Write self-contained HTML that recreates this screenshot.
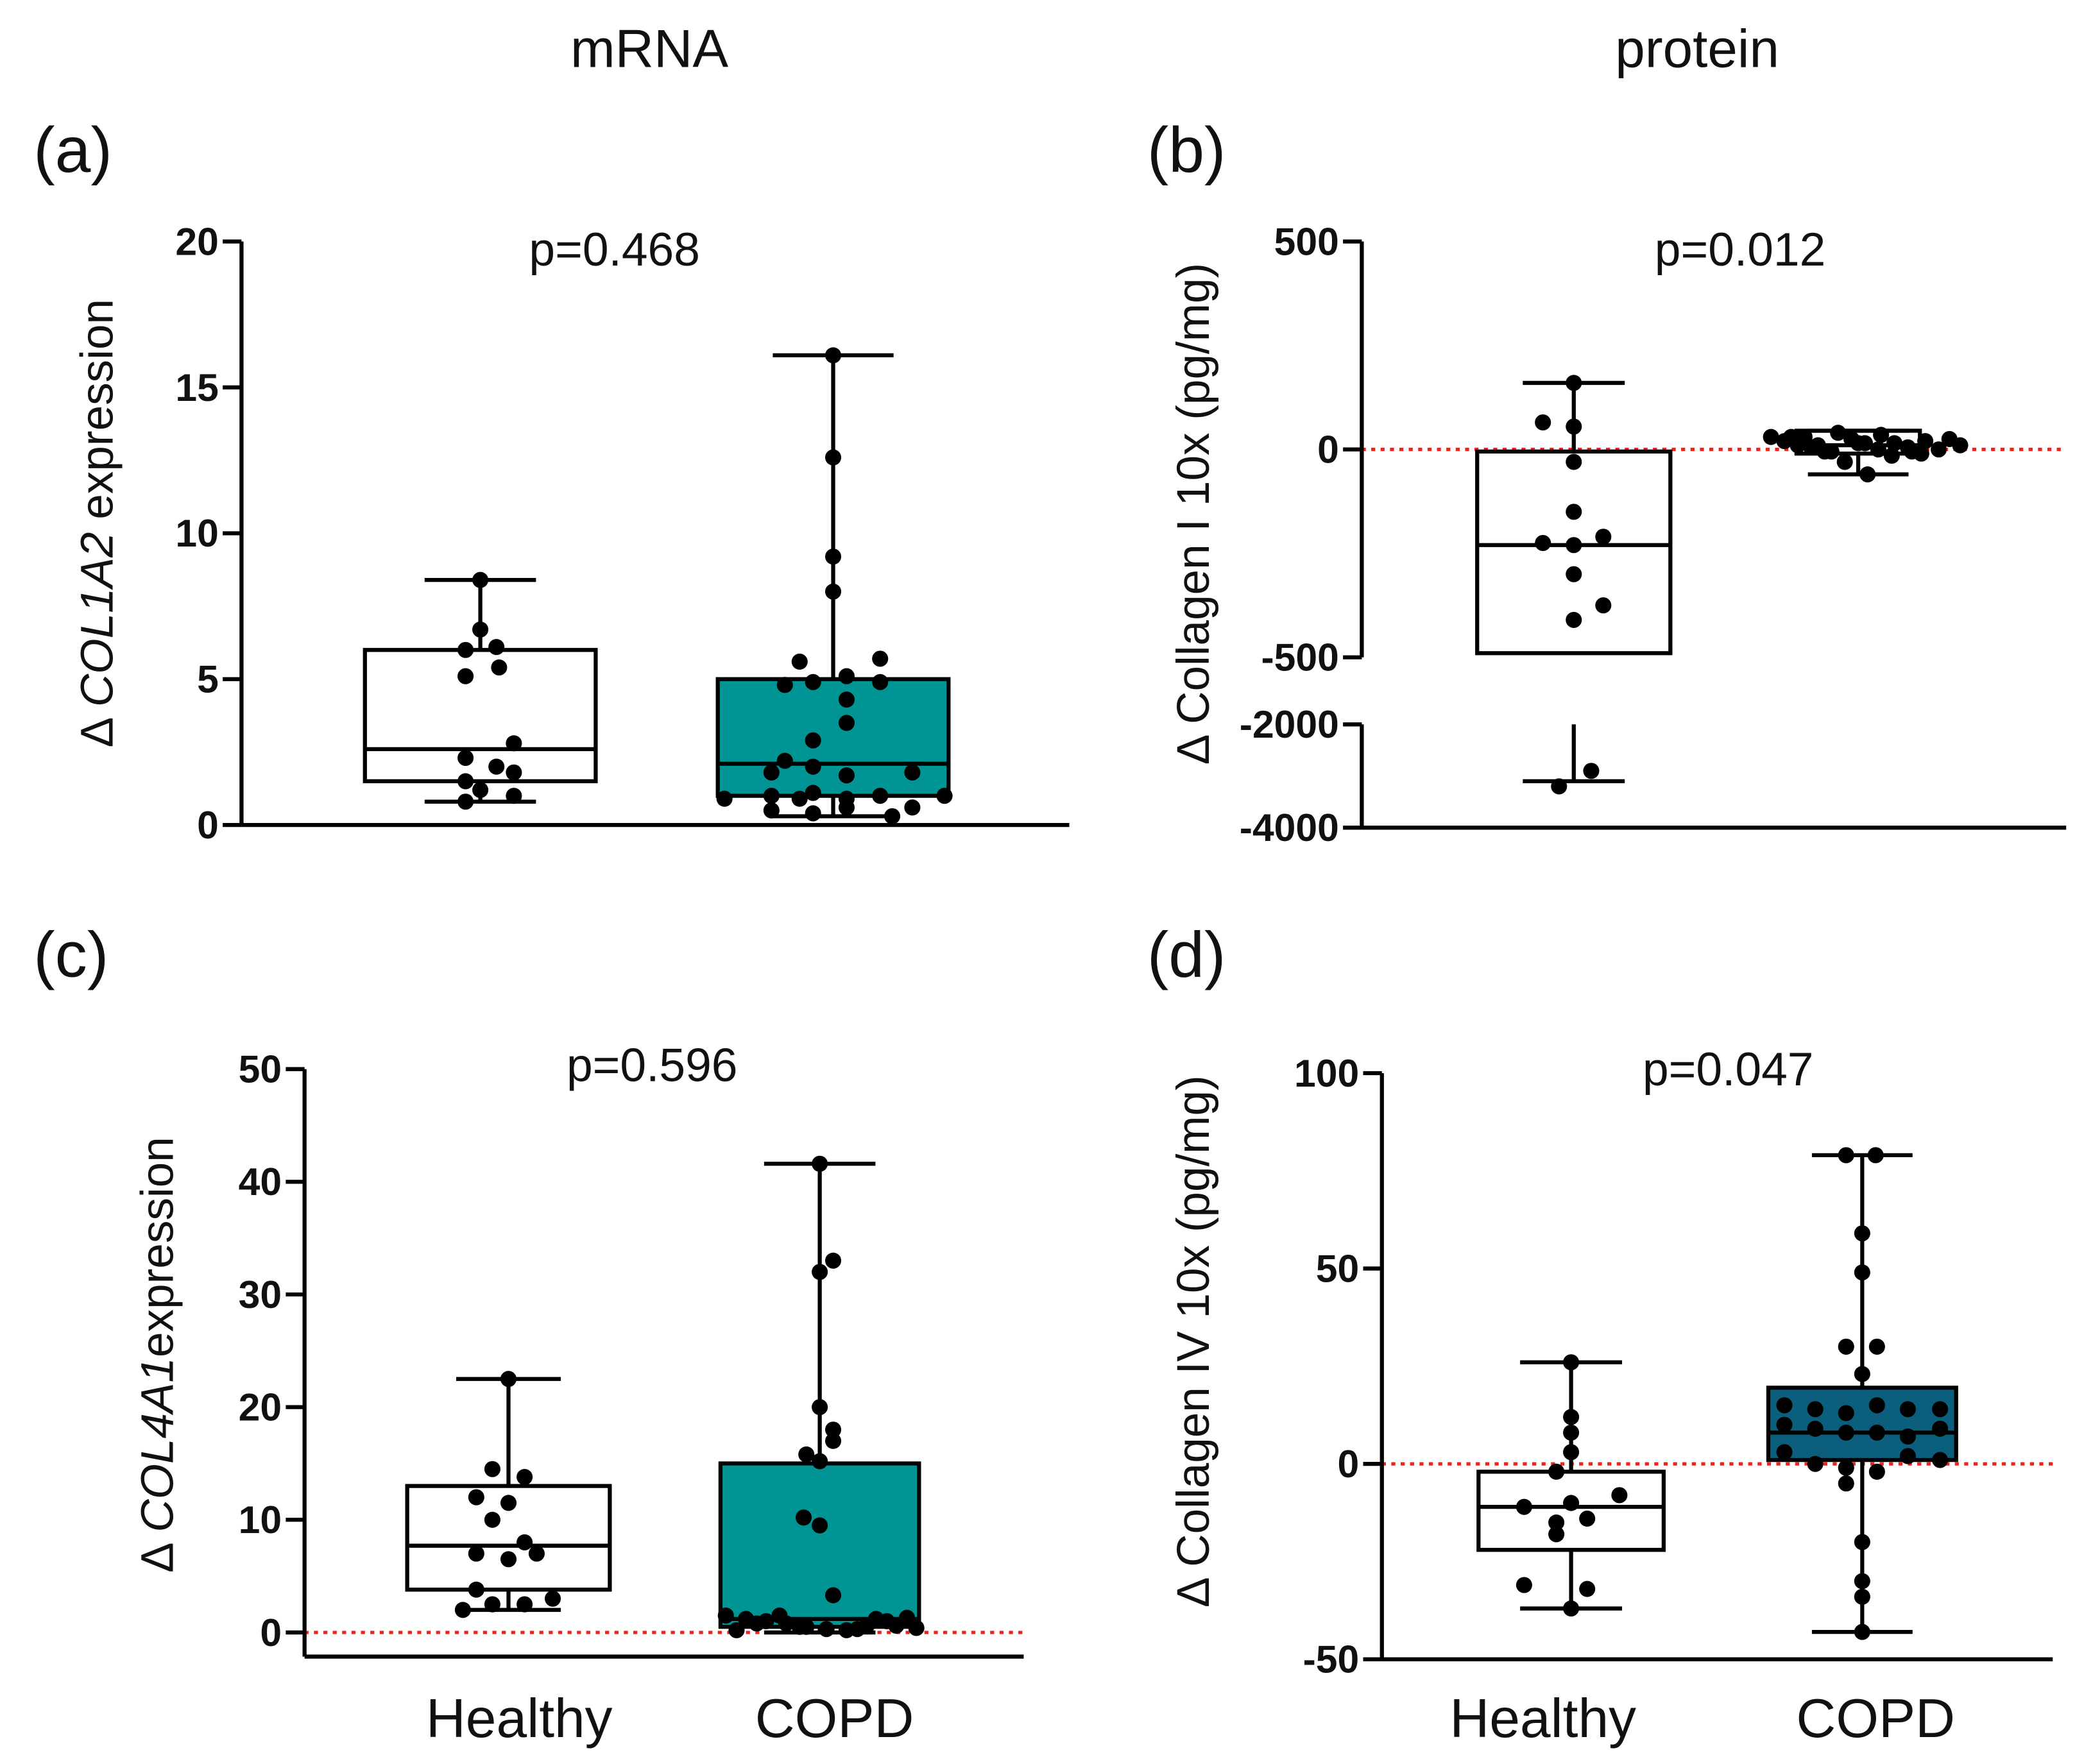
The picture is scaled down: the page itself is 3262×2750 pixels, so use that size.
<!DOCTYPE html>
<html><head><meta charset="utf-8"><style>
html,body{margin:0;padding:0;background:#fff}
svg{display:block}
text{font-family:"Liberation Sans",Arial,sans-serif;fill:#111}
</style></head><body>
<svg id="fig" width="3262" height="2750" viewBox="0 0 1560 1315" xmlns="http://www.w3.org/2000/svg">
<text x="484" y="50" font-size="40" text-anchor="middle">mRNA</text>
<text x="1265" y="50" font-size="40" text-anchor="middle">protein</text>
<text x="25" y="128" font-size="48">(a)</text>
<text x="855" y="128" font-size="48">(b)</text>
<text x="25" y="728" font-size="48">(c)</text>
<text x="855" y="728" font-size="48">(d)</text>
<text x="458" y="198" font-size="35" text-anchor="middle">p=0.468</text>
<text x="1297" y="198" font-size="35" text-anchor="middle">p=0.012</text>
<text x="486" y="806" font-size="35" text-anchor="middle">p=0.596</text>
<text x="1288" y="809" font-size="35" text-anchor="middle">p=0.047</text>
<text transform="translate(84,390) rotate(-90)" font-size="34" text-anchor="middle">Δ <tspan font-style="italic">COL1A2</tspan> expression</text>
<text transform="translate(901,383) rotate(-90)" font-size="34" text-anchor="middle">Δ Collagen I 10x (pg/mg)</text>
<text transform="translate(129,1010) rotate(-90)" font-size="34" text-anchor="middle">Δ <tspan font-style="italic">COL4A1</tspan>expression</text>
<text transform="translate(901,1000) rotate(-90)" font-size="34" text-anchor="middle">Δ Collagen IV 10x (pg/mg)</text>
<text x="387" y="1295" font-size="41" text-anchor="middle">Healthy</text>
<text x="622" y="1295" font-size="41" text-anchor="middle">COPD</text>
<text x="1150" y="1295" font-size="41" text-anchor="middle">Healthy</text>
<text x="1398" y="1295" font-size="41" text-anchor="middle">COPD</text>
</svg>
<script>
// Panel a data
const aTicks=[0,5,10,15,20];
const aHealthyStats=[0.8,1.5,2.6,6.0,8.4];
const aCopdStats=[0.3,1.0,2.1,5.0,16.1];
const aHealthyVals=[8.4,6.7,6.0,6.1,5.1,5.4,2.8,2.3,2.0,1.5,1.8,1.2,0.8,1.0];
const aHealthyJit=[0,0,-11,12,-11,14,25,-11,12,-11,25,0,-11,25];
const aCopdVals=[16.1,12.6,9.2,8.0,5.6,5.7,4.8,4.9,5.1,4.9,4.3,3.5,2.9,2.2,2.0,1.7,1.8,1.8,1.0,0.9,1.1,0.9,1.0,1.0,0.9,0.5,0.4,0.6,0.6,0.3];
const aCopdJit=[0,0,0,0,-25,35,-36,-15,10,35,10,10,-15,-36,-15,10,-46,59,-46,-25,-15,10,35,83,-81,-46,-15,10,59,44];
// Panel b data
const bTicksTop=[500,0,-500];
const bTicksBot=[-2000,-4000];
const bHealthyStats=[-3100,-490,-230,-5,160];
const bCopdStats=[-60,-10,10,45,45];
const bHealthyVals=[160,65,55,-30,-150,-225,-210,-230,-300,-375,-410,-3200,-2900];
const bHealthyJit=[0,-23,0,0,0,-23,22,0,0,22,0,-11,13];
const bCopdVals=[30,20,10,5,-5,40,25,15,0,-15,-60,35,15,5,-10,30,10,-5,20,0,-30,25,10,-5,15,30];
const bCopdJit=[-65,-55,-45,-35,-25,-15,-5,5,15,25,7,17,27,37,47,-40,-30,-20,50,60,-10,68,76,40,0,-50];
// Panel c data
const cTicks=[0,10,20,30,40,50];
const cHealthyStats=[2,3.8,7.7,13.0,22.5];
const cCopdStats=[0,0.5,1.2,15.0,41.6];
const cHealthyVals=[22.5,14.5,13.8,12,11.5,10,8,7,6.5,7,3.8,2.5,2.5,2,3];
const cHealthyJit=[0,-12,12,-24,0,-12,12,-24,0,21,-24,-12,12,-34,33];
const cCopdVals=[41.6,33,32,20,18,15.8,15.2,17,10.2,9.5,3.3,1.5,1.2,1.0,0.8,0.5,0.3,0.2,0.6,1.0,1.3,0.4,0.2,0.8,1.5,0.5,0.3,1.2,0.6];
const cCopdJit=[0,10,0,0,10,-10,0,10,-12,0,10,-70,-55,-40,-25,-10,5,20,35,50,65,72,-62,-47,-30,-15,28,42,57];
// Panel d data
const dTicks=[-50,0,50,100];
const dHealthyStats=[-37,-22,-11,-2,26];
const dCopdStats=[-43,1,8,19.5,79];
const dHealthyVals=[26,12,8,3,-2,-10,-11,-15,-14,-8,-18,-31,-32,-37];
const dHealthyJit=[0,0,0,0,-11,0,-35,-11,12,36,-11,-35,12,0];
const dCopdVals=[79,79,59,49,30,30,23,15,14,13,15,14,14,10,9,8,8,7,9,3,0,-1,-2,2,1,-5,-20,-30,-34,-43];
const dCopdJit=[-12,10,0,0,-12,11,0,-58,-35,-12,11,34,58,-58,-35,-12,11,34,58,-58,-35,-12,11,34,58,-12,0,0,0,0];

const NS='http://www.w3.org/2000/svg';
const svg=document.getElementById('fig');
function mk(tag,attrs,parent){const e=document.createElementNS(NS,tag);for(const k in attrs)e.setAttribute(k,attrs[k]);(parent||svg).appendChild(e);return e;}
function lin(d0,d1,r0,r1){return v=>r0+(v-d0)*(r1-r0)/(d1-d0);}

function drawBox(g,y,cx,w,capW,st,fill,name){
  const wl=mk('line',{x1:cx,x2:cx,y1:y(st[0]),y2:y(st[4]),stroke:'#000','stroke-width':3},g);
  
  
  const r=mk('rect',{x:cx-w/2,y:y(st[3]),width:w,height:y(st[1])-y(st[3]),fill:fill,stroke:'#000','stroke-width':3},g);
  
  
  const m=mk('line',{x1:cx-w/2,x2:cx+w/2,y1:y(st[2]),y2:y(st[2]),stroke:'#000','stroke-width':3},g);
  
  
  [st[0],st[4]].forEach(v=>{const c=mk('line',{x1:cx-capW/2,x2:cx+capW/2,y1:y(v),y2:y(v),stroke:'#000','stroke-width':3},g);
    
    });
}
function drawPts(g,y,cx,vals,jit,name){
  vals.forEach((v,i)=>{const c=mk('circle',{cx:cx+jit[i],cy:y(v),r:6,fill:'#000'},g);
    
    });
}
function axisY(g,x,y,ticks,name){
  ticks.forEach(t=>{const l=mk('line',{x1:x-14,x2:x,y1:y(t),y2:y(t),stroke:'#000','stroke-width':3},g);
    
    
    const tx=mk('text',{x:x-17,y:y(t)+10,'font-size':29,'font-weight':'bold','text-anchor':'end'},g);
    tx.textContent=t;
    
    });
}
function refLine(g,x1,x2,yy,name){
  const l=mk('line',{x1:x1,x2:x2,y1:yy,y2:yy,stroke:'#e8261e','stroke-width':2.5,'stroke-dasharray':'3,4'},g);
  
  
}
function panel(name){const g=mk('g',{});return g;}

// Panel a
(function(){const g=panel('panel-a-chart');const y=lin(0,20,615,180);
  drawBox(g,y,358,172,83,aHealthyStats,'#fff','healthy-a');
  drawBox(g,y,621,172,90,aCopdStats,'#009494','copd-a');
  drawPts(g,y,358,aHealthyVals,aHealthyJit,'healthy-a');
  drawPts(g,y,621,aCopdVals,aCopdJit,'copd-a');
  const ax=mk('line',{x1:180,x2:180,y1:180,y2:615,stroke:'#000','stroke-width':3},g);
  
  const xa=mk('line',{x1:180,x2:797,y1:615,y2:615,stroke:'#000','stroke-width':3},g);
  
  axisY(g,180,y,aTicks,'y-axis-a');
})();
// Panel b
(function(){const g=panel('panel-b-chart');const yt=lin(500,-500,180,490);const yb=lin(-2000,-4000,540,617);
  const y=v=>v>=-500?yt(v):yb(v);
  refLine(g,1015,1540,yt(0),'zero-line-b');
  const st=bHealthyStats,cx=1173;
  const r=mk('rect',{x:cx-72,y:yt(st[3]),width:144,height:yt(st[1])-yt(st[3]),fill:'#fff',stroke:'#000','stroke-width':3},g);
  
  const w1=mk('line',{x1:cx,x2:cx,y1:yt(st[4]),y2:yt(st[3]),stroke:'#000','stroke-width':3},g);
  
  const w2=mk('line',{x1:cx,x2:cx,y1:540,y2:yb(st[0]),stroke:'#000','stroke-width':3},g);
  
  const md=mk('line',{x1:cx-72,x2:cx+72,y1:yt(st[2]),y2:yt(st[2]),stroke:'#000','stroke-width':3},g);
  
  [yt(st[4]),yb(st[0])].forEach(yy=>{const c=mk('line',{x1:cx-38,x2:cx+38,y1:yy,y2:yy,stroke:'#000','stroke-width':3},g);
    });
  drawBox(g,yt,1385,92,75,bCopdStats,'#fff','copd-b');
  drawPts(g,y,cx,bHealthyVals,bHealthyJit,'healthy-b');
  drawPts(g,yt,1385,bCopdVals,bCopdJit,'copd-b');
  const a1=mk('line',{x1:1015,x2:1015,y1:180,y2:490,stroke:'#000','stroke-width':3},g);
  
  const a2=mk('line',{x1:1015,x2:1015,y1:540,y2:617,stroke:'#000','stroke-width':3},g);
  
  const xa=mk('line',{x1:1015,x2:1540,y1:617,y2:617,stroke:'#000','stroke-width':3},g);
  
  axisY(g,1015,yt,bTicksTop,'y-axis-b');
  axisY(g,1015,yb,bTicksBot,'y-axis-b');
})();
// Panel c
(function(){const g=panel('panel-c-chart');const y=lin(0,50,1217,797);
  refLine(g,227,763,y(0),'zero-line-c');
  drawBox(g,y,379,151,78,cHealthyStats,'#fff','healthy-c');
  drawBox(g,y,611,148,83,cCopdStats,'#009494','copd-c');
  drawPts(g,y,379,cHealthyVals,cHealthyJit,'healthy-c');
  drawPts(g,y,611,cCopdVals,cCopdJit,'copd-c');
  const ax=mk('line',{x1:227,x2:227,y1:797,y2:1235,stroke:'#000','stroke-width':3},g);
  
  const xa=mk('line',{x1:227,x2:763,y1:1235,y2:1235,stroke:'#000','stroke-width':3},g);
  
  axisY(g,227,y,cTicks,'y-axis-c');
})();
// Panel d
(function(){const g=panel('panel-d-chart');const y=lin(-50,100,1237,800);
  refLine(g,1030,1530,y(0),'zero-line-d');
  drawBox(g,y,1171,138,76,dHealthyStats,'#fff','healthy-d');
  drawBox(g,y,1388,140,75,dCopdStats,'#0b5f7c','copd-d');
  drawPts(g,y,1171,dHealthyVals,dHealthyJit,'healthy-d');
  drawPts(g,y,1388,dCopdVals,dCopdJit,'copd-d');
  const ax=mk('line',{x1:1030,x2:1030,y1:800,y2:1237,stroke:'#000','stroke-width':3},g);
  
  const xa=mk('line',{x1:1030,x2:1530,y1:1237,y2:1237,stroke:'#000','stroke-width':3},g);
  
  axisY(g,1030,y,dTicks,'y-axis-d');
})();
</script>
</body></html>
